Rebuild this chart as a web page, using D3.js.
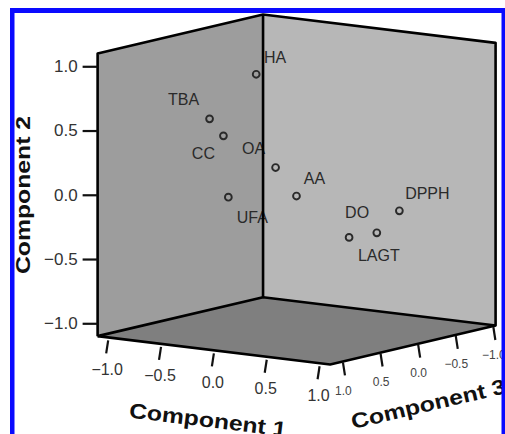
<!DOCTYPE html>
<html><head><meta charset="utf-8">
<script src="https://cdn.jsdelivr.net/npm/d3@7"></script>
<style>html,body{margin:0;padding:0;background:#fff;}svg{display:block;}text{font-family:"Liberation Sans",Arial,sans-serif;}</style>
</head><body>
<svg id="chart" width="505" height="434"></svg>
<script>
// ---- data ----
const variables = ["HA","TBA","CC","OA","AA","UFA","DPPH","DO","LAGT"];
const component1 = [-0.24,-0.61,-0.55,-0.27, 0.07,-0.29, 0.83, 0.71, 0.83];
const component2 = [ 0.90, 0.53, 0.39, 0.13,-0.03,-0.02,-0.11,-0.26,-0.24];
const component3 = [ 0.20, 0.30, 0.20,-0.10, 0.10, 0.50,-0.20, 0.30, 0.10];
const tickValues = [-1.0,-0.5,0.0,0.5,1.0];
const axisTitles = ["Component 1","Component 2","Component 3"];
// label placement (layout, pixels relative to the point)
const labelOffsets = [[19,-17],[-26,-19],[-20,18],[-22,-19],[18,-18],[24,20],[28,-17],[8,-25],[2,23]];

const svg = d3.select("#chart");
const ext = 1.1;
const O = {x:296.6, y:189.5};
const c1x = d3.scaleLinear().domain([-1,1]).range([-105.7,105.7]);
const c1y = d3.scaleLinear().domain([-1,1]).range([-12.9,12.9]);
const c2y = d3.scaleLinear().domain([-1,1]).range([128.5,-128.5]);
const c3x = d3.scaleLinear().domain([-1,1]).range([75.2,-75.2]);
const c3y = d3.scaleLinear().domain([-1,1]).range([-17.7,17.7]);
function P(a,b,c){ return [O.x + c1x(a) + c3x(c), O.y + c1y(a) + c2y(b) + c3y(c)]; }
const line = d3.line();

// walls
const leftWall = [P(-ext,-ext,ext),P(-ext,ext,ext),P(-ext,ext,-ext),P(-ext,-ext,-ext)];
const rightWall = [P(-ext,-ext,-ext),P(-ext,ext,-ext),P(ext,ext,-ext),P(ext,-ext,-ext)];
const floor = [P(-ext,-ext,ext),P(-ext,-ext,-ext),P(ext,-ext,-ext),P(ext,-ext,ext)];
svg.append("path").attr("d", line(leftWall)+"Z").attr("fill","#9d9d9d");
svg.append("path").attr("d", line(rightWall)+"Z").attr("fill","#b7b7b7");
svg.append("path").attr("d", line(floor)+"Z").attr("fill","#7f7f7f");

const edgeStyle = s => s.attr("fill","none").attr("stroke","#000").attr("stroke-width",2.6).attr("stroke-linejoin","round");
// outline edges (except the back vertical edge, drawn last)
svg.append("path").attr("d", line([P(-ext,-ext,ext),P(-ext,ext,ext),P(-ext,ext,-ext),P(ext,ext,-ext),P(ext,-ext,-ext),P(ext,-ext,ext),P(-ext,-ext,ext)])).call(edgeStyle);
svg.append("path").attr("d", line([P(-ext,-ext,ext),P(-ext,-ext,-ext),P(ext,-ext,-ext)])).call(edgeStyle);

// Y axis (component 2) on the left edge
const yScale = d3.scaleLinear().domain([-ext,ext]).range([P(-ext,-ext,ext)[1], P(-ext,ext,ext)[1]]);
const yAxis = svg.append("g").attr("transform",`translate(${P(-ext,0,ext)[0]},0)`)
  .call(d3.axisLeft(yScale).tickValues(tickValues).tickFormat(d3.format(".1f")).tickSize(15).tickPadding(5));
yAxis.select(".domain").remove();
yAxis.selectAll(".tick line").attr("stroke","#111").attr("stroke-width",2.2);
yAxis.selectAll(".tick text").attr("fill","#333").style("font-size","17px").attr("font-family","Liberation Sans, Arial, sans-serif");

// Component 1 axis ticks (front-left floor edge)
const g1 = svg.append("g");
tickValues.forEach(v=>{
  const p = P(v,-ext,ext);
  g1.append("line").attr("x1",p[0]).attr("y1",p[1]+3).attr("x2",p[0]-2).attr("y2",p[1]+16)
    .attr("stroke","#111").attr("stroke-width",2.2);
  g1.append("text").attr("x",p[0]-1).attr("y",p[1]+32).attr("dy","0.35em").attr("text-anchor","middle")
    .attr("fill","#333").style("font-size","16px").text(d3.format(".1f")(v));
});
// Component 3 axis ticks (front-right floor edge)
const g3 = svg.append("g");
tickValues.forEach(v=>{
  const p = P(ext+0.05,-ext,v);
  g3.append("line").attr("x1",p[0]).attr("y1",p[1]-1).attr("x2",p[0]+2).attr("y2",p[1]+12)
    .attr("stroke","#111").attr("stroke-width",2.2);
  g3.append("text").attr("x",p[0]+0.5).attr("y",p[1]+27).attr("dy","0.35em").attr("text-anchor","middle")
    .attr("fill","#444").style("font-size","12px").text(d3.format(".1f")(v));
});

// axis titles
const ang1 = Math.atan2(c1y(1)-c1y(0), c1x(1)-c1x(0))*180/Math.PI;
const ang3 = Math.atan2(c3y(-1)-c3y(0), c3x(-1)-c3x(0))*180/Math.PI;
const titleStyle = s => s.attr("text-anchor","middle").attr("fill","#111").style("font-size","21px").style("font-weight","bold");
svg.append("text").attr("transform",`translate(207,427) rotate(${ang1}) scale(1.18,1)`).call(titleStyle).text(axisTitles[0]);
svg.append("text").attr("transform",`translate(29.5,195) rotate(-90) scale(1.18,1)`).call(titleStyle).text(axisTitles[1]);
svg.append("text").attr("transform",`translate(430,411) rotate(${ang3}) scale(1.18,1)`).call(titleStyle).text(axisTitles[2]);

// points
const pts = variables.map((name,i)=>({name, p:P(component1[i],component2[i],component3[i]), off:labelOffsets[i]}));
svg.append("g").selectAll("circle").data(pts).join("circle")
  .attr("cx",d=>d.p[0]).attr("cy",d=>d.p[1]).attr("r",3.4)
  .attr("fill","none").attr("stroke","#2a2a2a").attr("stroke-width",1.9);
svg.append("g").selectAll("text").data(pts).join("text")
  .attr("x",d=>d.p[0]+d.off[0]).attr("y",d=>d.p[1]+d.off[1]).attr("dy","0.35em")
  .attr("text-anchor","middle").attr("fill","#2a2a2a").style("font-size","16px").text(d=>d.name);

// back vertical edge on top
svg.append("path").attr("d", line([P(-ext,-ext,-ext),P(-ext,ext,-ext)])).call(edgeStyle);

// blue frame
svg.append("rect").attr("x",10).attr("y",8).attr("width",4.5).attr("height",426).attr("fill","#0a0aff");
svg.append("rect").attr("x",10).attr("y",8).attr("width",495).attr("height",5).attr("fill","#0a0aff");
svg.append("rect").attr("x",501.5).attr("y",8).attr("width",3.5).attr("height",426).attr("fill","#0a0aff");
</script>
</body></html>
